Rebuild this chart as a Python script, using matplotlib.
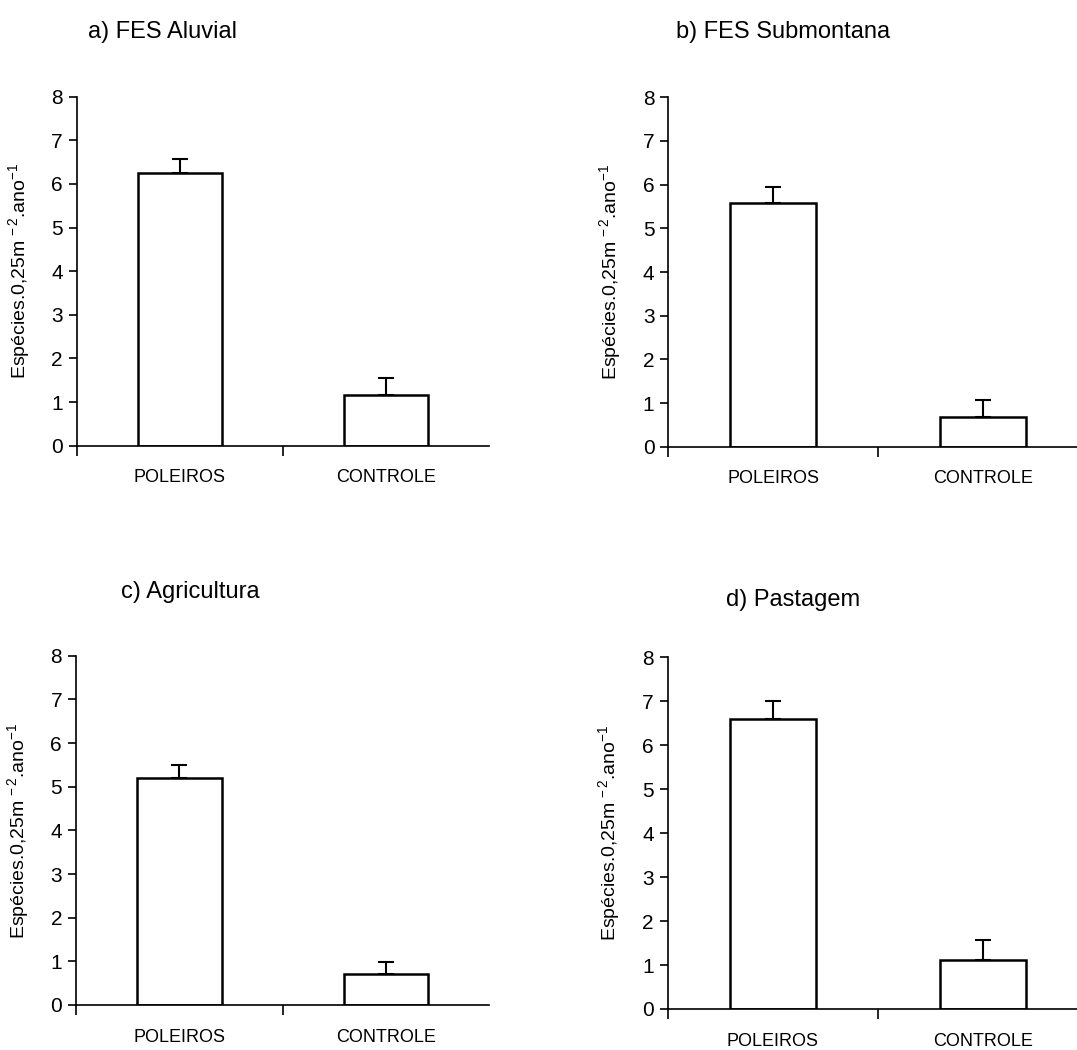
import matplotlib
matplotlib.use("Agg")
import matplotlib.pyplot as plt
import numpy as np

plt.rcParams["font.family"] = ["Liberation Sans", "DejaVu Sans"]
plt.rcParams["mathtext.fontset"] = "custom"
plt.rcParams["mathtext.rm"] = "Liberation Sans"
plt.rcParams["mathtext.it"] = "Liberation Sans:italic"
plt.rcParams["mathtext.default"] = "regular"

# Seed species richness per 0.25 m2 per year (mean and standard error)
categories = ["POLEIROS", "CONTROLE"]
titles = ["a) FES Aluvial", "b) FES Submontana", "c) Agricultura", "d) Pastagem"]
mean_aluvial = [6.25, 1.16]
se_aluvial = [0.33, 0.39]
mean_submontana = [5.57, 0.68]
se_submontana = [0.37, 0.38]
mean_agricultura = [5.21, 0.71]
se_agricultura = [0.28, 0.28]
mean_pastagem = [6.59, 1.12]
se_pastagem = [0.42, 0.44]
y_ticks = [0, 1, 2, 3, 4, 5, 6, 7, 8]

means = [mean_aluvial, mean_submontana, mean_agricultura, mean_pastagem]
errors = [se_aluvial, se_submontana, se_agricultura, se_pastagem]

W, H = 1077, 1050
fig = plt.figure(figsize=(W / 100, H / 100), dpi=100)

# panel rectangles in pixels: left, top, right, bottom
rects = [
    (76.7, 96.7, 489.0, 445.7),
    (668.3, 97.3, 1088.0, 446.7),
    (76.0, 655.7, 489.4, 1005.0),
    (667.7, 657.3, 1087.7, 1009.0),
]
title_pos = [(163, 32), (783, 32), (190, 592), (793, 600)]

ylabel = "Espécies.0,25m$^{\\,-2}$.ano$^{-1}$"

for i in range(4):
    l, t, r, b = rects[i]
    ax = fig.add_axes([l / W, 1 - b / H, (r - l) / W, (b - t) / H])
    x = np.arange(len(categories)) + 0.5
    ax.bar(x, means[i], width=0.41, color="white", edgecolor="black",
           linewidth=1.8, zorder=2)
    yerr = np.array([[0.0] * len(categories), errors[i]])
    ax.errorbar(x, means[i], yerr=yerr, fmt="none", ecolor="black",
                elinewidth=1.5, capsize=5.5, capthick=1.5, zorder=3)
    ax.set_xlim(0, 2)
    ax.set_ylim(0, 8)
    ax.set_yticks(y_ticks)
    ax.set_yticklabels([str(v) for v in y_ticks], fontsize=15)
    # category boundaries carry the ticks, labels sit at the centres
    ax.set_xticks([0, 1])
    ax.set_xticklabels(["", ""])
    ax.set_xticks(x, minor=True)
    ax.set_xticklabels(categories, minor=True, fontsize=13)
    ax.tick_params(axis="x", which="major", direction="out", length=7, width=1.2)
    ax.tick_params(axis="x", which="minor", length=0, pad=17)
    ax.tick_params(axis="y", direction="out", length=6, width=1.2, pad=4)
    for s in ["top", "right"]:
        ax.spines[s].set_visible(False)
    ax.spines["left"].set_linewidth(1.2)
    ax.spines["bottom"].set_linewidth(1.2)
    ax.set_ylabel(ylabel, fontsize=14)
    ax.yaxis.set_label_coords(-0.108, 0.5)
    fig.text(title_pos[i][0] / W, 1 - title_pos[i][1] / H, titles[i],
             fontsize=17, ha="center", va="center")

fig.savefig("out.png", dpi=100, facecolor="white")
